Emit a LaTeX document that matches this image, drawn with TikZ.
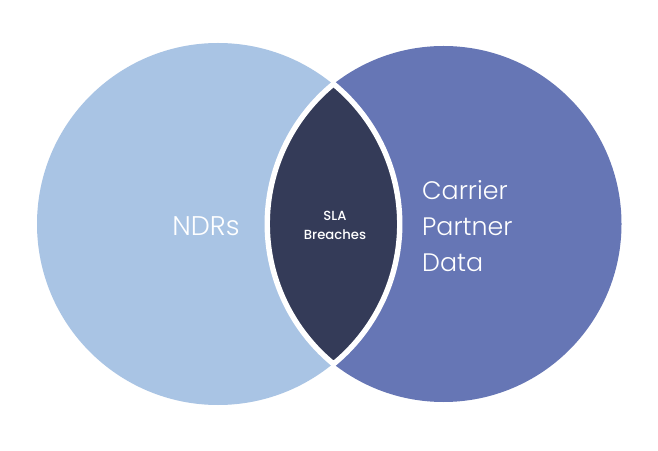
\documentclass[tikz,border=0pt]{standalone}
\usepackage{fontspec}
\setmainfont{Poppins}
\newfontfamily\lightfont{Poppins Light}
\newfontfamily\mediumfont{Poppins Medium}
\definecolor{leftblue}{HTML}{A9C4E4}
\definecolor{rightblue}{HTML}{6676B5}
\definecolor{lensdark}{HTML}{343B58}
\tikzset{
  venn/.style={circle,draw=none,inner sep=0pt,minimum size=#1},
  biglabel/.style={text=white,font=\lightfont\fontsize{25.3}{36}\selectfont,inner sep=0pt},
  ndrstyle/.style={text=white,font=\lightfont\fontsize{27}{36}\selectfont,inner sep=0pt},
  smalllabel/.style={text=white,font=\mediumfont\fontsize{13.2}{19}\selectfont,inner sep=0pt,align=center},
}
\begin{document}
\begin{tikzpicture}[x=1pt,y=1pt]
\useasboundingbox (0,0) rectangle (658,450);
\fill[white] (0,0) rectangle (658,450);
\node[venn=362pt,fill=leftblue] (ndrs) at (218,226) {};
\node[venn=356pt,fill=rightblue] (carrier) at (443.5,226) {};
\draw[white,line width=5.4pt,fill=lensdark,miter limit=10]
  (333.5,366) arc[start angle=50.66,end angle=-50.66,radius=181pt]
  arc[start angle=230.66,end angle=129.34,radius=181pt] -- cycle;
\node[ndrstyle,anchor=center] (ndrlabel) at (206,224) {NDRs};
\node[biglabel,anchor=west,align=left] (carrierlabel) at (422,224) {Carrier\\Partner\\Data};
\node[smalllabel] (slalabel) at (335,225) {SLA\\Breaches};
\end{tikzpicture}
\end{document}
